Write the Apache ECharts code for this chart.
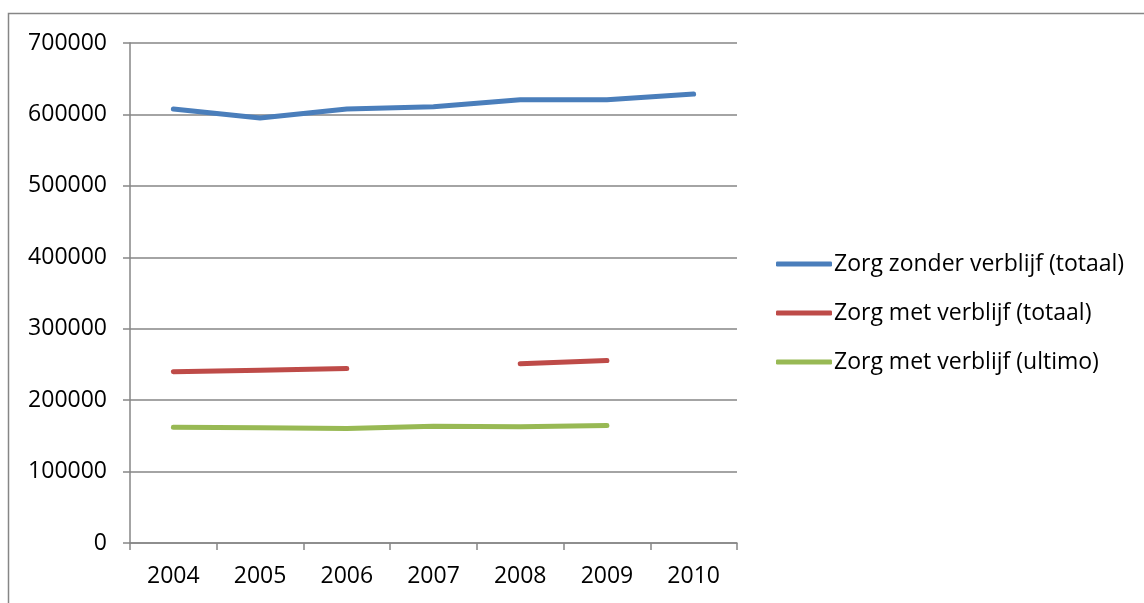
<!DOCTYPE html>
<html>
<head>
<meta charset="utf-8">
<script src="https://cdn.jsdelivr.net/npm/echarts@6/dist/echarts.min.js"></script>
<style>
  html, body { margin: 0; padding: 0; background: #fff; }
  #chart { width: 1144px; height: 603px; }
</style>
</head>
<body>
<div id="chart"></div>
<script>
// Years on the category axis
const years = ['2004', '2005', '2006', '2007', '2008', '2009', '2010'];

// Series values (null = no figure for that year)
const zorgZonderTotaal = [607500, 595000, 607500, 610700, 620500, 620500, 628500];
const zorgMetTotaal    = [239700, 242000, 244300, null, 250900, 255500, null];
const zorgMetUltimo    = [162200, 161500, 160300, 163600, 162700, 164500, null];

const seriesNames = [
  'Zorg zonder verblijf (totaal)',
  'Zorg met verblijf (totaal)',
  'Zorg met verblijf (ultimo)'
];
const seriesColors = ['#4a7ebb', '#be4b48', '#98b954'];

const FONT = 'Open Sans';
const FONT_SIZE = 23;
const GRAY = '#868686';

const chart = echarts.init(document.getElementById('chart'), null, { renderer: 'canvas' });

function lineSeries(name, data, color) {
  return {
    name: name,
    type: 'line',
    data: data,
    symbol: 'none',
    connectNulls: false,
    smooth: false,
    lineStyle: { color: color, width: 5, cap: 'round', join: 'round' },
    itemStyle: { color: color }
  };
}

chart.setOption({
  animation: false,
  backgroundColor: '#fff',
  textStyle: { fontFamily: FONT },
  graphic: [{
    type: 'rect',
    shape: { x: 8.5, y: 13.5, width: 1300, height: 800 },
    style: { fill: 'none', stroke: GRAY, lineWidth: 1.5 },
    silent: true
  }],
  grid: { left: 130, right: 407, top: 43, bottom: 60, containLabel: false },
  legend: {
    orient: 'vertical',
    left: 776,
    top: 248,
    padding: 0,
    icon: 'roundRect',
    itemWidth: 56,
    itemHeight: 5,
    itemGap: 17,
    textStyle: { fontFamily: FONT, fontSize: FONT_SIZE, color: '#000', padding: [0, 0, 0, -3], lineHeight: 32 },
    data: seriesNames
  },
  xAxis: {
    type: 'category',
    data: years,
    boundaryGap: true,
    axisLine: { show: true, lineStyle: { color: GRAY, width: 1.5 } },
    axisTick: { show: true, length: 7, interval: 0, lineStyle: { color: GRAY, width: 1.5 } },
    axisLabel: { fontFamily: FONT, fontSize: FONT_SIZE, color: '#000', margin: 22 },
    splitLine: { show: false }
  },
  yAxis: {
    type: 'value',
    min: 0,
    max: 700000,
    interval: 100000,
    axisLine: { show: true, lineStyle: { color: GRAY, width: 1.5 } },
    axisTick: { show: true, length: 7, lineStyle: { color: GRAY, width: 1.5 } },
    axisLabel: {
      fontFamily: FONT, fontSize: FONT_SIZE, color: '#000', margin: 23,
      formatter: function (v) { return String(v); }
    },
    splitLine: { show: true, lineStyle: { color: GRAY, width: 1.5 } }
  },
  series: [
    lineSeries(seriesNames[0], zorgZonderTotaal, seriesColors[0]),
    lineSeries(seriesNames[1], zorgMetTotaal, seriesColors[1]),
    lineSeries(seriesNames[2], zorgMetUltimo, seriesColors[2])
  ]
});
</script>
</body>
</html>
